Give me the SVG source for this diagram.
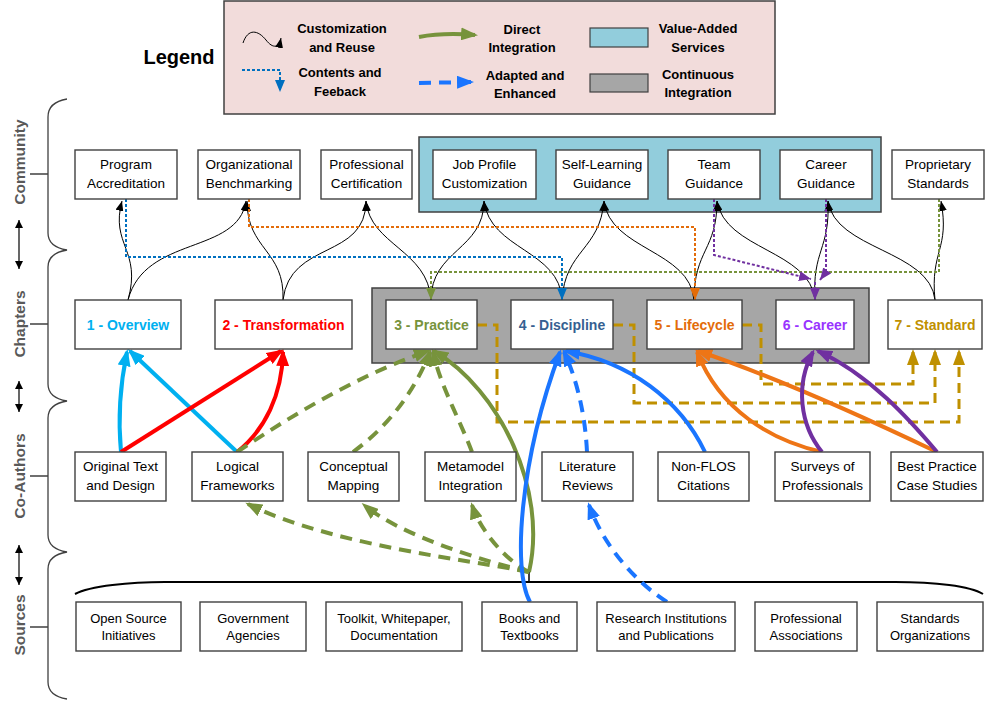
<svg xmlns="http://www.w3.org/2000/svg" width="988" height="703" viewBox="0 0 988 703">
<defs>
<style>
text{font-family:"Liberation Sans",Arial,sans-serif;}
.box{fill:#fff;stroke:#404040;stroke-width:1.4;}
.t{font-size:13.5px;fill:#000;text-anchor:middle;}
.ts{font-size:13px;fill:#000;text-anchor:middle;}
.lg{font-size:13px;font-weight:bold;fill:#000;text-anchor:middle;}
.ch{font-size:14px;font-weight:bold;text-anchor:middle;}
.side{font-size:15.5px;font-weight:bold;fill:#595959;text-anchor:middle;}
.brace{fill:none;stroke:#404040;stroke-width:1.3;}
.dbl{stroke:#000;stroke-width:1.2;marker-start:url(#mSmall);marker-end:url(#mSmall);}
.cr{fill:none;stroke:#000;stroke-width:1;marker-end:url(#mBlack);}
.dot{fill:none;stroke-width:2;stroke-dasharray:3 2;}
.gold{fill:none;stroke:#BF9000;stroke-width:3;stroke-dasharray:10 6;marker-end:url(#mGold);}
.thick{fill:none;stroke-width:4;}
.dash{stroke-dasharray:12 8;}
</style>
<marker id="mBlack" markerUnits="userSpaceOnUse" viewBox="0 0 10 8" markerWidth="10" markerHeight="8" refX="10" refY="4" orient="auto"><path d="M0,0L10,4L0,8z" fill="#000"/></marker>
<marker id="mDB" markerUnits="userSpaceOnUse" viewBox="0 0 12 10" markerWidth="12" markerHeight="10" refX="12" refY="5" orient="auto"><path d="M0,0L12,5L0,10z" fill="#0070C0"/></marker>
<marker id="mDO" markerUnits="userSpaceOnUse" viewBox="0 0 12 10" markerWidth="12" markerHeight="10" refX="12" refY="5" orient="auto"><path d="M0,0L12,5L0,10z" fill="#E36C09"/></marker>
<marker id="mDG" markerUnits="userSpaceOnUse" viewBox="0 0 12 10" markerWidth="12" markerHeight="10" refX="12" refY="5" orient="auto"><path d="M0,0L12,5L0,10z" fill="#77933C"/></marker>
<marker id="mDP" markerUnits="userSpaceOnUse" viewBox="0 0 12 10" markerWidth="12" markerHeight="10" refX="12" refY="5" orient="auto"><path d="M0,0L12,5L0,10z" fill="#7030A0"/></marker>
<marker id="mGold" markerUnits="userSpaceOnUse" viewBox="0 0 16 12" markerWidth="16" markerHeight="12" refX="13" refY="6" orient="auto"><path d="M0,0L16,6L0,12z" fill="#BF9000"/></marker>
<marker id="mCyan" markerUnits="userSpaceOnUse" viewBox="0 0 17 13" markerWidth="17" markerHeight="13" refX="14" refY="6.5" orient="auto"><path d="M0,0L17,6.5L0,13z" fill="#00B0F0"/></marker>
<marker id="mRed" markerUnits="userSpaceOnUse" viewBox="0 0 17 13" markerWidth="17" markerHeight="13" refX="14" refY="6.5" orient="auto"><path d="M0,0L17,6.5L0,13z" fill="#FF0000"/></marker>
<marker id="mGreen" markerUnits="userSpaceOnUse" viewBox="0 0 17 13" markerWidth="17" markerHeight="13" refX="14" refY="6.5" orient="auto"><path d="M0,0L17,6.5L0,13z" fill="#77933C"/></marker>
<marker id="mBlue" markerUnits="userSpaceOnUse" viewBox="0 0 17 13" markerWidth="17" markerHeight="13" refX="14" refY="6.5" orient="auto"><path d="M0,0L17,6.5L0,13z" fill="#1A75FF"/></marker>
<marker id="mOrange" markerUnits="userSpaceOnUse" viewBox="0 0 17 13" markerWidth="17" markerHeight="13" refX="14" refY="6.5" orient="auto"><path d="M0,0L17,6.5L0,13z" fill="#EE7516"/></marker>
<marker id="mPurple" markerUnits="userSpaceOnUse" viewBox="0 0 17 13" markerWidth="17" markerHeight="13" refX="14" refY="6.5" orient="auto"><path d="M0,0L17,6.5L0,13z" fill="#7030A0"/></marker>
<marker id="mSmall" markerUnits="userSpaceOnUse" viewBox="0 0 8 8" markerWidth="8" markerHeight="8" refX="8" refY="4" orient="auto-start-reverse"><path d="M0,0L8,4L0,8z" fill="#000"/></marker>
</defs>
<rect width="988" height="703" fill="#fff"/>

<!-- Legend -->
<g id="legend">
<text x="179" y="64" style="font-size:20px;font-weight:bold;text-anchor:middle">Legend</text>
<rect x="224" y="1" width="551" height="113" fill="#F2DCDB" stroke="#404040" stroke-width="1.5"/>
<path d="M243,43 C248,28 258,30 266,40 C273,49 279,48 281,38" fill="none" stroke="#000" stroke-width="1" marker-end="url(#mBlack)"/>
<text class="lg" x="342" y="33">Customization</text>
<text class="lg" x="342" y="52">and Reuse</text>
<path d="M242,70 H280 V92" class="dot" stroke="#0070C0" marker-end="url(#mDB)"/>
<text class="lg" x="340" y="77">Contents and</text>
<text class="lg" x="340" y="96">Feeback</text>
<path d="M419,37 C435,34 450,33 475,35" fill="none" stroke="#77933C" stroke-width="4" marker-end="url(#mGreen)"/>
<text class="lg" x="522" y="34">Direct</text>
<text class="lg" x="522" y="52">Integration</text>
<path d="M419,83 L471,82" fill="none" stroke="#1A75FF" stroke-width="4" stroke-dasharray="12 8" marker-end="url(#mBlue)"/>
<text class="lg" x="525" y="80">Adapted and</text>
<text class="lg" x="525" y="98">Enhanced</text>
<rect x="590" y="28" width="58" height="19" fill="#92CDDC" stroke="#404040" stroke-width="1.2"/>
<text class="lg" x="698" y="33">Value-Added</text>
<text class="lg" x="698" y="52">Services</text>
<rect x="590" y="74" width="58" height="18" fill="#A6A6A6" stroke="#404040" stroke-width="1.2"/>
<text class="lg" x="698" y="79">Continuous</text>
<text class="lg" x="698" y="97">Integration</text>
</g>

<!-- Side braces and labels -->
<g id="side">
<path class="brace" d="M67,99 C55,101 48,107 48,117 V233 C48,243 55,248 67,250 C55,252 48,257 48,267 V384 C48,394 55,399 67,401 C55,403 48,408 48,418 V535 C48,545 55,550 67,552 C55,554 48,559 48,569 V682 C48,692 55,697 67,699"/>
<path d="M30,174H48M30,324H48M30,476H48M30,627H48" stroke="#404040" stroke-width="1.3"/>
<path class="dbl" d="M19,220V269"/>
<path class="dbl" d="M19,381V412"/>
<path class="dbl" d="M19,545V585"/>
<text class="side" transform="translate(25,162) rotate(-90)">Community</text>
<text class="side" transform="translate(25,324) rotate(-90)">Chapters</text>
<text class="side" transform="translate(25,476) rotate(-90)">Co-Authors</text>
<text class="side" transform="translate(25,625) rotate(-90)">Sources</text>
<path d="M75,594 C90,586 130,582 165,582 H895 C935,582 970,586 983,594" fill="none" stroke="#000" stroke-width="2"/>
<path d="M529,582 V572" stroke="#000" stroke-width="1.5"/>
</g>

<!-- Containers -->
<g id="value-added">
<rect x="419" y="137" width="462" height="75" fill="#92CDDC" stroke="#404040" stroke-width="1.5"/>
</g>
<g id="continuous-integration">
<rect x="372" y="288" width="497" height="75" fill="#A6A6A6" stroke="#404040" stroke-width="1.5"/>
</g>

<!-- Connectors -->
<g id="connectors">
<!-- customization and reuse -->
<path class="cr" d="M128,300 C142,250 110,245 122,201"/>
<path class="cr" d="M128,300 C145,235 238,255 246,201"/>
<path class="cr" d="M283,300 C285,250 247,250 247,201"/>
<path class="cr" d="M283,300 C290,240 366,260 366,201"/>
<path class="cr" d="M431,300 C428,250 370,245 366,201"/>
<path class="cr" d="M431,300 C431,250 484,250 484,201"/>
<path class="cr" d="M562,300 C560,250 490,250 484,201"/>
<path class="cr" d="M562,300 C565,250 600,250 604,201"/>
<path class="cr" d="M694,300 C690,250 610,250 604,201"/>
<path class="cr" d="M694,300 C694,250 717,250 717,201"/>
<path class="cr" d="M815,300 C810,250 725,250 717,201"/>
<path class="cr" d="M815,300 C812,250 830,250 828,201"/>
<path class="cr" d="M935,300 C930,250 835,250 828,201"/>
<path class="cr" d="M935,300 C930,250 950,250 941,201"/>
<!-- contents and feedback -->
<path class="dot" stroke="#0070C0" d="M126,199 V257 H562 V300" marker-end="url(#mDB)"/>
<path class="dot" stroke="#E36C09" d="M249,199 V227 H695 V300" marker-end="url(#mDO)"/>
<path class="dot" stroke="#77933C" d="M939,199 V272 H431 V300" marker-end="url(#mDG)"/>
<path class="dot" stroke="#7030A0" d="M714,199 V255 L811,279" marker-end="url(#mDP)"/>
<path class="dot" stroke="#7030A0" d="M826,199 V272 L820,280" marker-end="url(#mDP)"/>
<path class="dot" stroke="#7030A0" d="M815,282 V300" marker-end="url(#mDP)"/>
<!-- continuous integration -->
<path class="gold" d="M477,325 H497 V422 H959 V352"/>
<path class="gold" d="M613,325 H634 V403 H935 V352"/>
<path class="gold" d="M742,325 H761 V384 H913 V352"/>
<!-- co-authors to chapters -->
<path class="thick" stroke="#00B0F0" d="M121,452 C118,420 119,390 127,352" marker-end="url(#mCyan)"/>
<path class="thick" stroke="#00B0F0" d="M237,452 L130,351" marker-end="url(#mCyan)"/>
<path class="thick" stroke="#FF0000" d="M121,452 L281,351" marker-end="url(#mRed)"/>
<path class="thick" stroke="#FF0000" d="M237,452 C265,430 282,395 283,352" marker-end="url(#mRed)"/>
<path class="thick dash" stroke="#77933C" d="M237,452 C300,410 360,375 428,351" marker-end="url(#mGreen)"/>
<path class="thick dash" stroke="#77933C" d="M353,452 C390,425 415,390 430,352" marker-end="url(#mGreen)"/>
<path class="thick dash" stroke="#77933C" d="M472,452 C460,420 440,385 433,352" marker-end="url(#mGreen)"/>
<path class="thick" stroke="#77933C" d="M529,572 C548,490 500,390 434,351" marker-end="url(#mGreen)"/>
<path class="thick dash" stroke="#77933C" d="M529,572 C470,560 330,545 248,504" marker-end="url(#mGreen)"/>
<path class="thick dash" stroke="#77933C" d="M529,572 C480,560 400,535 364,505" marker-end="url(#mGreen)"/>
<path class="thick dash" stroke="#77933C" d="M529,572 C505,560 480,530 472,505" marker-end="url(#mGreen)"/>
<path class="thick" stroke="#1A75FF" d="M530,602 C512,570 520,460 560,352" marker-end="url(#mBlue)"/>
<path class="thick dash" stroke="#1A75FF" d="M587,452 C585,410 575,375 564,352" marker-end="url(#mBlue)"/>
<path class="thick" stroke="#1A75FF" d="M705,452 C680,400 630,362 566,351" marker-end="url(#mBlue)"/>
<path class="thick dash" stroke="#1A75FF" d="M667,602 C640,585 605,550 589,505" marker-end="url(#mBlue)"/>
<path class="thick" stroke="#EE7516" d="M822,452 C770,440 720,410 697,352" marker-end="url(#mOrange)"/>
<path class="thick" stroke="#EE7516" d="M937,452 C870,420 770,375 698,351" marker-end="url(#mOrange)"/>
<path class="thick" stroke="#7030A0" d="M822,452 C800,425 795,385 813,352" marker-end="url(#mPurple)"/>
<path class="thick" stroke="#7030A0" d="M937,452 C910,420 870,375 818,351" marker-end="url(#mPurple)"/>
</g>

<!-- Community -->
<g id="program-accreditation"><rect class="box" x="75" y="150" width="102" height="49"/><text class="t" x="126" y="169">Program</text><text class="t" x="126" y="188">Accreditation</text></g>
<g id="organizational-benchmarking"><rect class="box" x="198" y="150" width="102" height="49"/><text class="t" x="249" y="169">Organizational</text><text class="t" x="249" y="188">Benchmarking</text></g>
<g id="professional-certification"><rect class="box" x="321" y="150" width="91" height="49"/><text class="t" x="366.5" y="169">Professional</text><text class="t" x="366.5" y="188">Certification</text></g>
<g id="job-profile"><rect class="box" x="433" y="150" width="103" height="49"/><text class="t" x="484.5" y="169">Job Profile</text><text class="t" x="484.5" y="188">Customization</text></g>
<g id="self-learning"><rect class="box" x="556" y="150" width="92" height="49"/><text class="t" x="602" y="169">Self-Learning</text><text class="t" x="602" y="188">Guidance</text></g>
<g id="team-guidance"><rect class="box" x="668" y="150" width="92" height="49"/><text class="t" x="714" y="169">Team</text><text class="t" x="714" y="188">Guidance</text></g>
<g id="career-guidance"><rect class="box" x="780" y="150" width="92" height="49"/><text class="t" x="826" y="169">Career</text><text class="t" x="826" y="188">Guidance</text></g>
<g id="proprietary-standards"><rect class="box" x="892" y="150" width="92" height="49"/><text class="t" x="938" y="169">Proprietary</text><text class="t" x="938" y="188">Standards</text></g>

<!-- Chapters -->
<g id="ch1"><rect class="box" x="75" y="300" width="106" height="49"/><text class="ch" x="128" y="330" fill="#00B0F0">1 - Overview</text></g>
<g id="ch2"><rect class="box" x="215" y="300" width="137" height="49"/><text class="ch" x="283.5" y="330" fill="#FF0000">2 - Transformation</text></g>
<g id="ch3"><rect class="box" x="386" y="300" width="91" height="49"/><text class="ch" x="431.5" y="330" fill="#77933C">3 - Practice</text></g>
<g id="ch4"><rect class="box" x="511" y="300" width="102" height="49"/><text class="ch" x="562" y="330" fill="#365F91">4 - Discipline</text></g>
<g id="ch5"><rect class="box" x="647" y="300" width="95" height="49"/><text class="ch" x="694.5" y="330" fill="#E36C09">5 - Lifecycle</text></g>
<g id="ch6"><rect class="box" x="776" y="300" width="78" height="49"/><text class="ch" x="815" y="330" fill="#9933FF">6 - Career</text></g>
<g id="ch7"><rect class="box" x="888" y="300" width="94" height="49"/><text class="ch" x="935" y="330" fill="#BF9000">7 - Standard</text></g>

<!-- Co-Authors -->
<g id="original-text"><rect class="box" x="75" y="452" width="91" height="49"/><text class="t" x="120.5" y="471">Original Text</text><text class="t" x="120.5" y="490">and Design</text></g>
<g id="logical-frameworks"><rect class="box" x="192" y="452" width="91" height="49"/><text class="t" x="237.5" y="471">Logical</text><text class="t" x="237.5" y="490">Frameworks</text></g>
<g id="conceptual-mapping"><rect class="box" x="308" y="452" width="91" height="49"/><text class="t" x="353.5" y="471">Conceptual</text><text class="t" x="353.5" y="490">Mapping</text></g>
<g id="metamodel-integration"><rect class="box" x="425" y="452" width="91" height="49"/><text class="t" x="470.5" y="471">Metamodel</text><text class="t" x="470.5" y="490">Integration</text></g>
<g id="literature-reviews"><rect class="box" x="542" y="452" width="91" height="49"/><text class="t" x="587.5" y="471">Literature</text><text class="t" x="587.5" y="490">Reviews</text></g>
<g id="non-flos"><rect class="box" x="658" y="452" width="91" height="49"/><text class="t" x="703.5" y="471">Non-FLOS</text><text class="t" x="703.5" y="490">Citations</text></g>
<g id="surveys"><rect class="box" x="775" y="452" width="95" height="49"/><text class="t" x="822.5" y="471">Surveys of</text><text class="t" x="822.5" y="490">Professionals</text></g>
<g id="best-practice"><rect class="box" x="891" y="452" width="92" height="49"/><text class="t" x="937" y="471">Best Practice</text><text class="t" x="937" y="490">Case Studies</text></g>

<!-- Sources -->
<g id="open-source"><rect class="box" x="76" y="602" width="105" height="49"/><text class="ts" x="128.5" y="623">Open Source</text><text class="ts" x="128.5" y="640">Initiatives</text></g>
<g id="government"><rect class="box" x="200" y="602" width="106" height="49"/><text class="ts" x="253" y="623">Government</text><text class="ts" x="253" y="640">Agencies</text></g>
<g id="toolkit"><rect class="box" x="326" y="602" width="136" height="49"/><text class="ts" x="394" y="623">Toolkit, Whitepaper,</text><text class="ts" x="394" y="640">Documentation</text></g>
<g id="books"><rect class="box" x="482" y="602" width="95" height="49"/><text class="ts" x="529.5" y="623">Books and</text><text class="ts" x="529.5" y="640">Textbooks</text></g>
<g id="research"><rect class="box" x="597" y="602" width="138" height="49"/><text class="ts" x="666" y="623">Research Institutions</text><text class="ts" x="666" y="640">and Publications</text></g>
<g id="professional-associations"><rect class="box" x="755" y="602" width="102" height="49"/><text class="ts" x="806" y="623">Professional</text><text class="ts" x="806" y="640">Associations</text></g>
<g id="standards-organizations"><rect class="box" x="877" y="602" width="106" height="49"/><text class="ts" x="930" y="623">Standards</text><text class="ts" x="930" y="640">Organizations</text></g>
</svg>
